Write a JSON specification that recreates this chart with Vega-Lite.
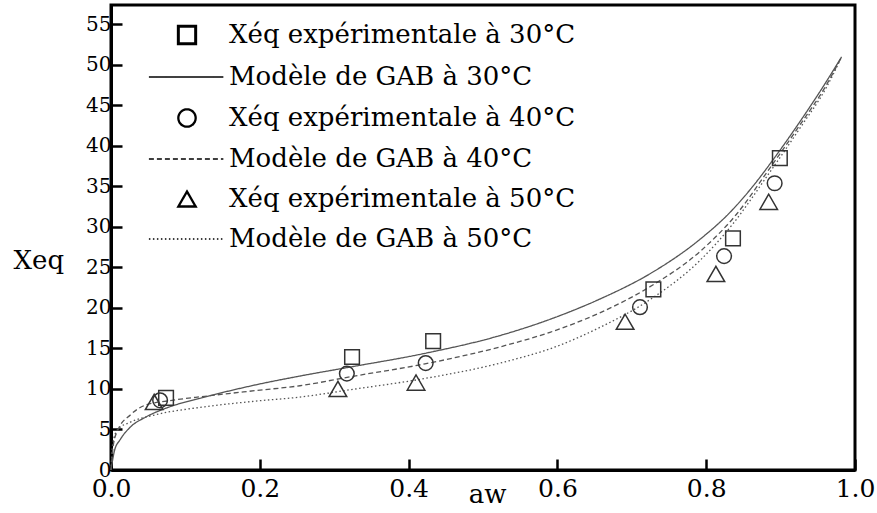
{
  "$schema": "https://vega.github.io/schema/vega-lite/v6.json",
  "width": 744,
  "height": 465,
  "autosize": {"type": "none"},
  "padding": {"left": 111, "top": 5, "right": 22, "bottom": 43},
  "background": "white",
  "datasets": {
    "pts": [
      {"aw": 0.074, "xeq": 8.9, "serie": "Xéq expérimentale à 30°C"},
      {"aw": 0.324, "xeq": 13.95, "serie": "Xéq expérimentale à 30°C"},
      {"aw": 0.433, "xeq": 15.9, "serie": "Xéq expérimentale à 30°C"},
      {"aw": 0.729, "xeq": 22.3, "serie": "Xéq expérimentale à 30°C"},
      {"aw": 0.836, "xeq": 28.6, "serie": "Xéq expérimentale à 30°C"},
      {"aw": 0.899, "xeq": 38.5, "serie": "Xéq expérimentale à 30°C"},
      {"aw": 0.066, "xeq": 8.6, "serie": "Xéq expérimentale à 40°C"},
      {"aw": 0.317, "xeq": 11.9, "serie": "Xéq expérimentale à 40°C"},
      {"aw": 0.423, "xeq": 13.2, "serie": "Xéq expérimentale à 40°C"},
      {"aw": 0.711, "xeq": 20.1, "serie": "Xéq expérimentale à 40°C"},
      {"aw": 0.824, "xeq": 26.4, "serie": "Xéq expérimentale à 40°C"},
      {"aw": 0.892, "xeq": 35.4, "serie": "Xéq expérimentale à 40°C"},
      {"aw": 0.058, "xeq": 8.4, "serie": "Xéq expérimentale à 50°C"},
      {"aw": 0.305, "xeq": 10.0, "serie": "Xéq expérimentale à 50°C"},
      {"aw": 0.410, "xeq": 10.8, "serie": "Xéq expérimentale à 50°C"},
      {"aw": 0.691, "xeq": 18.3, "serie": "Xéq expérimentale à 50°C"},
      {"aw": 0.813, "xeq": 24.2, "serie": "Xéq expérimentale à 50°C"},
      {"aw": 0.884, "xeq": 33.1, "serie": "Xéq expérimentale à 50°C"}
    ],
    "gab": [
      {"aw": 0.0, "xeq": 0.0, "serie": "Modèle de GAB à 30°C"},
      {"aw": 0.005, "xeq": 2.5, "serie": "Modèle de GAB à 30°C"},
      {"aw": 0.012, "xeq": 3.7, "serie": "Modèle de GAB à 30°C"},
      {"aw": 0.026, "xeq": 5.3, "serie": "Modèle de GAB à 30°C"},
      {"aw": 0.046, "xeq": 6.5, "serie": "Modèle de GAB à 30°C"},
      {"aw": 0.073, "xeq": 7.6, "serie": "Modèle de GAB à 30°C"},
      {"aw": 0.126, "xeq": 9.0, "serie": "Modèle de GAB à 30°C"},
      {"aw": 0.194, "xeq": 10.5, "serie": "Modèle de GAB à 30°C"},
      {"aw": 0.254, "xeq": 11.6, "serie": "Modèle de GAB à 30°C"},
      {"aw": 0.321, "xeq": 12.7, "serie": "Modèle de GAB à 30°C"},
      {"aw": 0.422, "xeq": 14.4, "serie": "Modèle de GAB à 30°C"},
      {"aw": 0.523, "xeq": 16.6, "serie": "Modèle de GAB à 30°C"},
      {"aw": 0.590, "xeq": 18.6, "serie": "Modèle de GAB à 30°C"},
      {"aw": 0.657, "xeq": 21.1, "serie": "Modèle de GAB à 30°C"},
      {"aw": 0.724, "xeq": 24.2, "serie": "Modèle de GAB à 30°C"},
      {"aw": 0.792, "xeq": 28.5, "serie": "Modèle de GAB à 30°C"},
      {"aw": 0.832, "xeq": 31.8, "serie": "Modèle de GAB à 30°C"},
      {"aw": 0.859, "xeq": 34.6, "serie": "Modèle de GAB à 30°C"},
      {"aw": 0.897, "xeq": 39.2, "serie": "Modèle de GAB à 30°C"},
      {"aw": 0.926, "xeq": 43.0, "serie": "Modèle de GAB à 30°C"},
      {"aw": 0.957, "xeq": 47.3, "serie": "Modèle de GAB à 30°C"},
      {"aw": 0.982, "xeq": 51.0, "serie": "Modèle de GAB à 30°C"},
      {"aw": 0.0, "xeq": 0.0, "serie": "Modèle de GAB à 40°C"},
      {"aw": 0.003, "xeq": 3.0, "serie": "Modèle de GAB à 40°C"},
      {"aw": 0.009, "xeq": 4.9, "serie": "Modèle de GAB à 40°C"},
      {"aw": 0.026, "xeq": 6.8, "serie": "Modèle de GAB à 40°C"},
      {"aw": 0.046, "xeq": 8.0, "serie": "Modèle de GAB à 40°C"},
      {"aw": 0.082, "xeq": 8.6, "serie": "Modèle de GAB à 40°C"},
      {"aw": 0.126, "xeq": 9.1, "serie": "Modèle de GAB à 40°C"},
      {"aw": 0.194, "xeq": 9.8, "serie": "Modèle de GAB à 40°C"},
      {"aw": 0.254, "xeq": 10.4, "serie": "Modèle de GAB à 40°C"},
      {"aw": 0.321, "xeq": 11.5, "serie": "Modèle de GAB à 40°C"},
      {"aw": 0.422, "xeq": 13.1, "serie": "Modèle de GAB à 40°C"},
      {"aw": 0.523, "xeq": 15.2, "serie": "Modèle de GAB à 40°C"},
      {"aw": 0.590, "xeq": 17.0, "serie": "Modèle de GAB à 40°C"},
      {"aw": 0.657, "xeq": 19.4, "serie": "Modèle de GAB à 40°C"},
      {"aw": 0.724, "xeq": 22.6, "serie": "Modèle de GAB à 40°C"},
      {"aw": 0.792, "xeq": 27.0, "serie": "Modèle de GAB à 40°C"},
      {"aw": 0.841, "xeq": 31.6, "serie": "Modèle de GAB à 40°C"},
      {"aw": 0.882, "xeq": 36.8, "serie": "Modèle de GAB à 40°C"},
      {"aw": 0.926, "xeq": 42.6, "serie": "Modèle de GAB à 40°C"},
      {"aw": 0.962, "xeq": 47.6, "serie": "Modèle de GAB à 40°C"},
      {"aw": 0.982, "xeq": 51.0, "serie": "Modèle de GAB à 40°C"},
      {"aw": 0.0, "xeq": 0.0, "serie": "Modèle de GAB à 50°C"},
      {"aw": 0.002, "xeq": 3.0, "serie": "Modèle de GAB à 50°C"},
      {"aw": 0.009, "xeq": 5.0, "serie": "Modèle de GAB à 50°C"},
      {"aw": 0.026, "xeq": 5.9, "serie": "Modèle de GAB à 50°C"},
      {"aw": 0.059, "xeq": 6.8, "serie": "Modèle de GAB à 50°C"},
      {"aw": 0.126, "xeq": 7.8, "serie": "Modèle de GAB à 50°C"},
      {"aw": 0.194, "xeq": 8.5, "serie": "Modèle de GAB à 50°C"},
      {"aw": 0.254, "xeq": 9.0, "serie": "Modèle de GAB à 50°C"},
      {"aw": 0.321, "xeq": 9.9, "serie": "Modèle de GAB à 50°C"},
      {"aw": 0.422, "xeq": 11.3, "serie": "Modèle de GAB à 50°C"},
      {"aw": 0.523, "xeq": 13.2, "serie": "Modèle de GAB à 50°C"},
      {"aw": 0.603, "xeq": 15.4, "serie": "Modèle de GAB à 50°C"},
      {"aw": 0.657, "xeq": 17.6, "serie": "Modèle de GAB à 50°C"},
      {"aw": 0.724, "xeq": 21.0, "serie": "Modèle de GAB à 50°C"},
      {"aw": 0.792, "xeq": 25.9, "serie": "Modèle de GAB à 50°C"},
      {"aw": 0.836, "xeq": 30.4, "serie": "Modèle de GAB à 50°C"},
      {"aw": 0.882, "xeq": 36.3, "serie": "Modèle de GAB à 50°C"},
      {"aw": 0.926, "xeq": 42.2, "serie": "Modèle de GAB à 50°C"},
      {"aw": 0.962, "xeq": 47.3, "serie": "Modèle de GAB à 50°C"},
      {"aw": 0.982, "xeq": 51.0, "serie": "Modèle de GAB à 50°C"}
    ]
  },
  "encoding": {
    "x": {
      "field": "aw", "type": "quantitative",
      "scale": {"domain": [0, 1], "nice": false},
      "axis": {
        "title": "aw", "values": [0, 0.2, 0.4, 0.6, 0.8, 1.0], "format": ".1f",
        "labelFontSize": 25, "labelPadding": 17,
        "titleFontSize": 26,
        "titleX": 376, "titleY": 32, "titleBaseline": "alphabetic", "titleAlign": "center"
      }
    },
    "y": {
      "field": "xeq", "type": "quantitative",
      "scale": {"domain": [0, 57.4], "nice": false},
      "axis": {
        "title": "Xeq", "values": [0, 5, 10, 15, 20, 25, 30, 35, 40, 45, 50, 55], "format": "d",
        "labelFontSize": 20, "labelPadding": 11,
        "titleFontSize": 26,
        "titleAngle": 0, "titleAlign": "left", "titleBaseline": "alphabetic",
        "titleX": -98, "titleY": 263
      }
    }
  },
  "layer": [
    {
      "data": {"name": "gab"},
      "mark": {"type": "line", "interpolate": "monotone", "color": "#555555"},
      "encoding": {
        "strokeDash": {
          "field": "serie", "type": "nominal",
          "scale": {
            "domain": ["Xéq expérimentale à 30°C", "Modèle de GAB à 30°C", "Xéq expérimentale à 40°C", "Modèle de GAB à 40°C", "Xéq expérimentale à 50°C", "Modèle de GAB à 50°C"],
            "range": [[1, 0], [1, 0], [1, 0], [5, 3], [1, 0], [1.5, 2.5]]
          },
          "legend": {
            "orient": "none", "legendX": 63, "legendY": 17, "title": null, "padding": 0,
            "labelFontSize": 26, "labelLimit": 0, "labelOffset": 29, "rowPadding": 14,
            "symbolSize": 300, "symbolStrokeColor": "black", "symbolFillColor": "transparent", "symbolOpacity": 1
          }
        },
        "strokeWidth": {
          "field": "serie", "type": "nominal",
          "scale": {
            "type": "ordinal",
            "domain": ["Xéq expérimentale à 30°C", "Modèle de GAB à 30°C", "Xéq expérimentale à 40°C", "Modèle de GAB à 40°C", "Xéq expérimentale à 50°C", "Modèle de GAB à 50°C"],
            "range": [3, 1.3, 2.3, 1.3, 2.3, 1.3]
          },
          "legend": {
            "orient": "none", "legendX": 63, "legendY": 17, "title": null, "padding": 0,
            "labelFontSize": 26, "labelLimit": 0, "labelOffset": 29, "rowPadding": 14,
            "symbolSize": 300, "symbolStrokeColor": "black", "symbolFillColor": "transparent", "symbolOpacity": 1
          }
        }
      }
    },
    {
      "data": {"name": "pts"},
      "transform": [{"filter": "datum.serie !== 'Xéq expérimentale à 50°C'"}],
      "mark": {"type": "point", "filled": false, "strokeWidth": 1.5, "color": "#333333", "opacity": 1, "size": 215},
      "encoding": {
        "shape": {
          "field": "serie", "type": "nominal",
          "scale": {
            "domain": ["Xéq expérimentale à 30°C", "Modèle de GAB à 30°C", "Xéq expérimentale à 40°C", "Modèle de GAB à 40°C", "Xéq expérimentale à 50°C", "Modèle de GAB à 50°C"],
            "range": ["square", "M-4.4,0H4.2", "circle", "M-4.4,0H4.2", "triangle-up", "M-4.4,0H4.2"]
          },
          "legend": {
            "orient": "none", "legendX": 63, "legendY": 17, "title": null, "padding": 0,
            "labelFontSize": 26, "labelLimit": 0, "labelOffset": 29, "rowPadding": 14,
            "symbolSize": 300, "symbolStrokeColor": "black", "symbolFillColor": "transparent", "symbolOpacity": 1
          }
        }
      }
    },
    {
      "data": {"name": "pts"},
      "transform": [{"filter": "datum.serie === 'Xéq expérimentale à 50°C'"}],
      "mark": {"type": "point", "filled": false, "strokeWidth": 1.5, "color": "#333333", "opacity": 1, "size": 310},
      "encoding": {
        "shape": {
          "field": "serie", "type": "nominal",
          "scale": {
            "domain": ["Xéq expérimentale à 30°C", "Modèle de GAB à 30°C", "Xéq expérimentale à 40°C", "Modèle de GAB à 40°C", "Xéq expérimentale à 50°C", "Modèle de GAB à 50°C"],
            "range": ["square", "M-4.4,0H4.2", "circle", "M-4.4,0H4.2", "triangle-up", "M-4.4,0H4.2"]
          },
          "legend": {
            "orient": "none", "legendX": 63, "legendY": 17, "title": null, "padding": 0,
            "labelFontSize": 26, "labelLimit": 0, "labelOffset": 29, "rowPadding": 14,
            "symbolSize": 300, "symbolStrokeColor": "black", "symbolFillColor": "transparent", "symbolOpacity": 1
          }
        }
      }
    }
  ],
  "config": {
    "font": "DejaVu Serif",
    "view": {"stroke": "black", "strokeWidth": 3},
    "axis": {
      "grid": false,
      "domainColor": "black", "domainWidth": 3,
      "tickColor": "black", "tickWidth": 2.5, "tickSize": -11,
      "labelFont": "DejaVu Serif", "labelColor": "black",
      "labelFlush": false, "labelOverlap": false,
      "titleFont": "DejaVu Serif", "titleFontWeight": "normal", "titleColor": "black"
    },
    "legend": {
      "labelFont": "DejaVu Serif", "labelColor": "black"
    }
  }
}
